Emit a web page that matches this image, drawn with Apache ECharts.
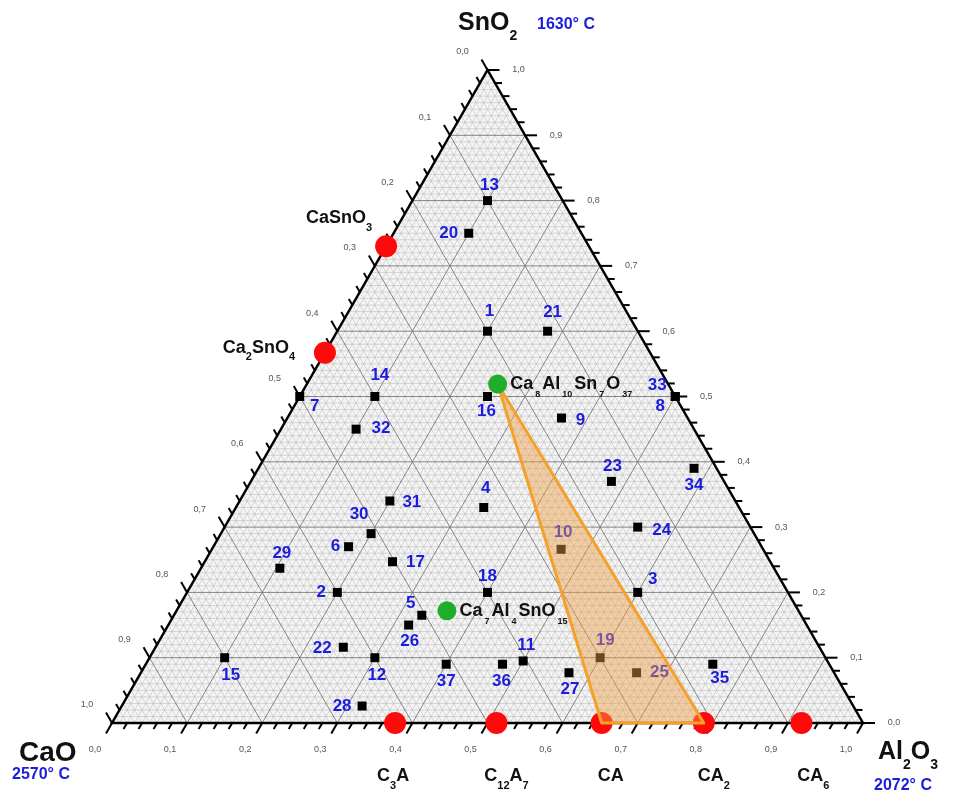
<!DOCTYPE html>
<html>
<head>
<meta charset="utf-8">
<script src="https://cdn.jsdelivr.net/npm/echarts@6/dist/echarts.min.js"></script>
<style>
html, body { margin: 0; padding: 0; background: #fff; }
#ternary { width: 953px; height: 796px; }
</style>
</head>
<body>
<div id="ternary"></div>
<script>
// samples (weight fractions, CaO = 1 - Al2O3 - SnO2)
var sampleIds = ['1', '2', '3', '4', '5', '6', '7', '8', '9', '10',
		'11', '12', '13', '14', '15', '16', '17', '18', '19', '20',
		'21', '22', '23', '24', '25', '26', '27', '28', '29', '30',
		'31', '32', '33', '34', '35', '36', '37'];
var sampleAl2O3 = [0.20, 0.20, 0.60, 0.33, 0.33, 0.18, 0.00, 0.50, 0.365, 0.465,
		0.50, 0.30, 0.10, 0.10, 0.10, 0.25, 0.25, 0.40, 0.60, 0.10,
		0.28, 0.25, 0.48, 0.55, 0.66, 0.32, 0.57, 0.32, 0.105, 0.20,
		0.20, 0.10, 0.50, 0.58, 0.755, 0.475, 0.40];
var sampleSnO2 = [0.60, 0.20, 0.20, 0.33, 0.165, 0.27, 0.50, 0.50, 0.467, 0.266,
		0.095, 0.10, 0.80, 0.50, 0.10, 0.50, 0.247, 0.20, 0.10, 0.75,
		0.60, 0.116, 0.37, 0.30, 0.077, 0.15, 0.077, 0.026, 0.237, 0.29,
		0.34, 0.45, 0.50, 0.39, 0.09, 0.09, 0.09];

// binary phases on the edges
var phaseNames = ['CaSnO3', 'Ca2SnO4', 'C3A', 'C12A7', 'CA', 'CA2', 'CA6'];
var phaseAl2O3 = [0, 0, 0.377, 0.512, 0.652, 0.788, 0.918];
var phaseSnO2 = [0.730, 0.567, 0, 0, 0, 0, 0];

// ternary phases
var ternaryNames = ['Ca8Al10Sn7O37', 'Ca7Al4SnO15'];
var ternaryAl2O3 = [0.254, 0.360];
var ternarySnO2 = [0.519, 0.172];

// shaded field: Ca8Al10Sn7O37 - CA - CA2
var fieldAl2O3 = [0.254, 0.652, 0.788];
var fieldSnO2 = [0.519, 0, 0];

var tickValues = [0, 0.1, 0.2, 0.3, 0.4, 0.5, 0.6, 0.7, 0.8, 0.9, 1.0];
var tickLabels = ['0,0', '0,1', '0,2', '0,3', '0,4', '0,5', '0,6', '0,7', '0,8', '0,9', '1,0'];

var BLUE = '#1c1cdc';
var FONT = 'Arial, "Liberation Sans", sans-serif';

function toXY(al, sn) {
	return [al + sn / 2, sn];
}

// label offsets of the sample numbers (px)
var labelOffset = {
	'1': [2, -20], '2': [-16, 0], '3': [15, -13], '4': [2, -19], '5': [-11, -12],
	'6': [-13, 0], '7': [15, 10], '8': [-15, 10], '9': [19, 2], '10': [2, -17],
	'11': [3, -16], '12': [2, 18], '13': [2, -15], '14': [5, -21], '15': [6, 18],
	'16': [-1, 15], '17': [23, 1], '18': [0, -16], '19': [5, -17], '20': [-20, 0],
	'21': [5, -19], '22': [-21, 1], '23': [1, -15], '24': [24, 3], '25': [23, 0],
	'26': [1, 16], '27': [1, 17], '28': [-20, 0], '29': [2, -15], '30': [-12, -19],
	'31': [22, 1], '32': [25, -1], '33': [-18, -11], '34': [0, 17], '35': [7, 14],
	'36': [-1, 17], '37': [0, 17]
};

var phaseRich = {
	'CaSnO3': { text: '{n|CaSnO}{s|3}', offset: [-47, -28] },
	'Ca2SnO4': { text: '{n|Ca}{s|2}{n|SnO}{s|4}', offset: [-66, -5] },
	'C3A': { text: '{n|C}{s|3}{n|A}', offset: [-2, 53] },
	'C12A7': { text: '{n|C}{s|12}{n|A}{s|7}', offset: [10, 53] },
	'CA': { text: '{n|CA}', offset: [9, 53] },
	'CA2': { text: '{n|CA}{s|2}', offset: [10, 53] },
	'CA6': { text: '{n|CA}{s|6}', offset: [12, 53] }
};
var ternaryRich = {
	'Ca8Al10Sn7O37': '{n|Ca}{t|8}{n|Al}{t|10}{n|Sn}{t|7}{n|O}{t|37}',
	'Ca7Al4SnO15': '{n|Ca}{t|7}{n|Al}{t|4}{n|SnO}{t|15}'
};

var richStyle = {
	n: { fontSize: 18, fontWeight: 'bold', color: '#111', fontFamily: FONT, lineHeight: 30 },
	s: { fontSize: 11, fontWeight: 'bold', color: '#111', fontFamily: FONT, lineHeight: 30, verticalAlign: 'bottom' },
	t: { fontSize: 9, fontWeight: 'bold', color: '#111', fontFamily: FONT, lineHeight: 30, verticalAlign: 'bottom', padding: [0, 2, 0, 2] }
};

var sampleData = sampleIds.map(function(id, i) {
	return {
		name : id,
		value : toXY(sampleAl2O3[i], sampleSnO2[i]),
		label : {
			offset : labelOffset[id]
		}
	};
});

var phaseData = phaseNames.map(function(n, i) {
	return {
		name : n,
		value : toXY(phaseAl2O3[i], phaseSnO2[i]),
		label : {
			formatter : phaseRich[n].text,
			offset : phaseRich[n].offset
		}
	};
});

var ternaryData = ternaryNames.map(function(n, i) {
	return {
		name : n,
		value : toXY(ternaryAl2O3[i], ternarySnO2[i]),
		label : {
			formatter : ternaryRich[n]
		}
	};
});

var fieldData = fieldAl2O3.map(function(b, i) {
	return toXY(b, fieldSnO2[i]);
});

function renderFrame(params, api) {
	var minor = [], major = [], ticks = [], texts = [];
	function seg(list, p, q) {
		var a = api.coord(p), b = api.coord(q);
		list.push({ type : 'line', shape : { x1 : a[0], y1 : a[1], x2 : b[0], y2 : b[1] } });
	}
	for (var i = 1; i < 100; i++) {
		var t = i / 100;
		var list = i % 10 === 0 ? major : minor;
		seg(list, [t / 2, t], [1 - t / 2, t]);            // constant SnO2
		seg(list, [t, 0], [t + (1 - t) / 2, 1 - t]);      // constant Al2O3
		seg(list, [t / 2, t], [t, 0]);                    // constant CaO
	}
	var ct = 0.866;
	for (var k = 0; k <= 50; k++) {
		var v = k / 50;
		var len = k % 5 === 0 ? 12 : 7;
		var p = api.coord([v, 0]);
		ticks.push({ type : 'line', shape : { x1 : p[0], y1 : p[1], x2 : p[0] - 0.5 * len, y2 : p[1] + ct * len } });
		var q = api.coord([1 - v / 2, v]);
		ticks.push({ type : 'line', shape : { x1 : q[0], y1 : q[1], x2 : q[0] + len, y2 : q[1] } });
		var r = api.coord([(1 - v) / 2, 1 - v]);
		ticks.push({ type : 'line', shape : { x1 : r[0], y1 : r[1], x2 : r[0] - 0.5 * len, y2 : r[1] - ct * len } });
	}
	tickValues.forEach(function(v, j) {
		var p = api.coord([v, 0]);
		texts.push({ x : p[0] - 17, y : p[1] + 27, text : tickLabels[j] });
		var q = api.coord([1 - v / 2, v]);
		texts.push({ x : q[0] + 31, y : q[1], text : tickLabels[j] });
		var r = api.coord([(1 - v) / 2, 1 - v]);
		texts.push({ x : r[0] - 25, y : r[1] - 18, text : tickLabels[j] });
	});
	var A = api.coord([0, 0]), B = api.coord([1, 0]), C = api.coord([0.5, 1]);
	return {
		type : 'group',
		children : [ {
			type : 'polygon',
			shape : { points : [A, B, C] },
			style : { fill : '#f5f5f5' }
		}, {
			type : 'group',
			children : minor.map(function(e) { e.style = { stroke : '#bdbdbd', lineWidth : 0.6 }; return e; })
		}, {
			type : 'group',
			children : major.map(function(e) { e.style = { stroke : '#777', lineWidth : 0.9 }; return e; })
		}, {
			type : 'polygon',
			shape : { points : [A, B, C] },
			style : { fill : null, stroke : '#000', lineWidth : 2.5 }
		}, {
			type : 'group',
			children : ticks.map(function(e) { e.style = { stroke : '#000', lineWidth : 2 }; return e; })
		}, {
			type : 'group',
			children : texts.map(function(tx) {
				return {
					type : 'text',
					x : tx.x,
					y : tx.y,
					style : { text : tx.text, fill : '#555', font : '9px ' + FONT, align : 'center', verticalAlign : 'middle' }
				};
			})
		} ]
	};
}

function renderField(params, api) {
	var pts = fieldData.map(function(d) { return api.coord(d); });
	return {
		type : 'polygon',
		shape : { points : pts },
		style : { fill : 'rgba(240,160,70,0.45)', stroke : '#f3a12b', lineWidth : 3, lineJoin : 'round' }
	};
}

var option = {
	animation : false,
	backgroundColor : '#fff',
	grid : {
		left : 112,
		top : 70,
		width : 751,
		height : 653
	},
	xAxis : { type : 'value', min : 0, max : 1, show : false },
	yAxis : { type : 'value', min : 0, max : 1, show : false },
	graphic : [ {
		type : 'text', left : 458, top : 11,
		style : { text : '{b|SnO}{s|2}', rich : {
			b : { fontSize : 25, fontWeight : 'bold', fontFamily : FONT, fill : '#111', lineHeight : 40 },
			s : { fontSize : 14, fontWeight : 'bold', fontFamily : FONT, fill : '#111', lineHeight : 40, verticalAlign : 'bottom' } } }
	}, {
		type : 'text', left : 537, top : 17,
		style : { text : '1630° C', font : 'bold 16px ' + FONT, fill : BLUE }
	}, {
		type : 'text', left : 19, top : 739,
		style : { text : 'CaO', font : 'bold 28px ' + FONT, fill : '#111' }
	}, {
		type : 'text', left : 12, top : 767,
		style : { text : '2570° C', font : 'bold 16px ' + FONT, fill : BLUE }
	}, {
		type : 'text', left : 878, top : 740,
		style : { text : '{b|Al}{s|2}{b|O}{s|3}', rich : {
			b : { fontSize : 25, fontWeight : 'bold', fontFamily : FONT, fill : '#111', lineHeight : 40 },
			s : { fontSize : 14, fontWeight : 'bold', fontFamily : FONT, fill : '#111', lineHeight : 40, verticalAlign : 'bottom' } } }
	}, {
		type : 'text', left : 874, top : 778,
		style : { text : '2072° C', font : 'bold 16px ' + FONT, fill : BLUE }
	} ],
	series : [ {
		type : 'custom',
		coordinateSystem : 'cartesian2d',
		renderItem : renderFrame,
		data : [ [0, 0] ],
		clip : false,
		silent : true,
		z : 1
	}, {
		type : 'scatter',
		symbol : 'rect',
		symbolSize : 9,
		clip : false,
		itemStyle : { color : '#000', opacity : 1 },
		label : {
			show : true,
			position : 'inside',
			formatter : '{b}',
			color : BLUE,
			fontSize : 17,
			fontWeight : 'bold',
			fontFamily : FONT
		},
		data : sampleData,
		z : 3
	}, {
		type : 'scatter',
		symbol : 'circle',
		symbolSize : 22,
		clip : false,
		itemStyle : { color : '#ff0a0a', opacity : 1 },
		label : {
			show : true,
			position : 'inside',
			rich : richStyle
		},
		data : phaseData,
		z : 4
	}, {
		type : 'custom',
		coordinateSystem : 'cartesian2d',
		renderItem : renderField,
		data : [ [0, 0] ],
		clip : false,
		silent : true,
		z : 5
	}, {
		type : 'scatter',
		symbol : 'circle',
		symbolSize : 19,
		clip : false,
		itemStyle : { color : '#1fae2c', opacity : 1 },
		label : {
			show : true,
			position : 'right',
			distance : 3,
			rich : richStyle
		},
		data : ternaryData,
		z : 6
	} ]
};

var chart = echarts.init(document.getElementById('ternary'));
chart.setOption(option);
</script>
</body>
</html>
